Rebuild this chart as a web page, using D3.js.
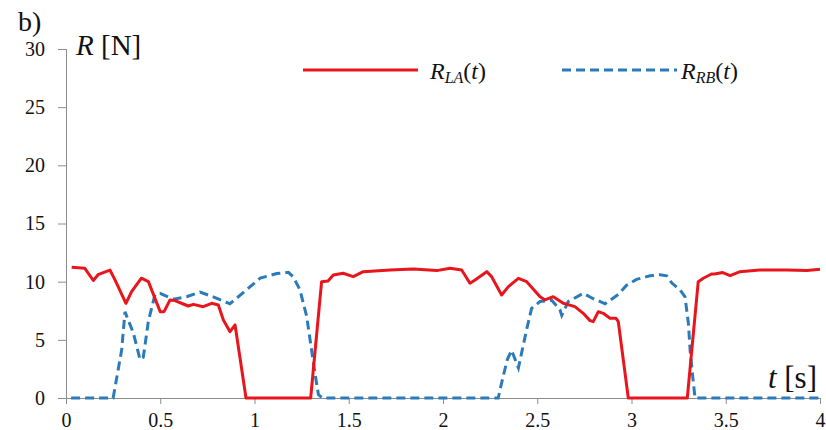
<!DOCTYPE html>
<html><head><meta charset="utf-8">
<script src="https://cdn.jsdelivr.net/npm/d3@7"></script>
<style>body{margin:0;background:#fff;} .tick text{font-family:"Liberation Serif",serif !important;}</style>
</head><body>
<svg id="c" width="826" height="430"></svg>
<script>
const xTicks = [0,0.5,1,1.5,2,2.5,3,3.5,4];
const xTickLabels = ["0","0.5","1","1.5","2","2.5","3","3.5","4"];
const yTicks = [0,5,10,15,20,25,30];

const tLA = [0.03,0.10,0.145,0.17,0.233,0.26,0.318,0.348,0.40,0.437,0.50,0.52,0.552,0.578,0.622,0.649,0.676,0.728,0.773,0.808,0.835,0.87,0.897,0.955,1.298,1.356,1.39,1.418,1.47,1.524,1.577,1.72,1.842,1.967,2.037,2.099,2.143,2.17,2.232,2.258,2.311,2.347,2.40,2.444,2.515,2.541,2.585,2.638,2.70,2.744,2.78,2.797,2.824,2.85,2.886,2.918,2.93,2.983,3.296,3.354,3.381,3.425,3.44,3.484,3.523,3.576,3.68,3.823,3.93,4.0];
const rLA = [11.24,11.15,10.1,10.6,11.0,10.15,8.14,9.14,10.3,10.0,7.42,7.42,8.43,8.37,8.08,7.91,8.05,7.85,8.14,8.0,6.7,5.7,6.28,0,0,10.0,10.06,10.58,10.72,10.43,10.86,11.0,11.09,10.95,11.15,11.0,9.86,10.15,10.86,10.43,8.86,9.57,10.29,10.0,8.71,8.43,8.71,8.14,7.85,7.28,6.65,6.56,7.42,7.28,6.85,6.85,6.56,0,0,10.0,10.29,10.66,10.66,10.78,10.52,10.86,11.0,11.0,10.95,11.07];

const tRB = [0.027,0.25,0.295,0.313,0.357,0.393,0.41,0.437,0.472,0.499,0.57,0.64,0.711,0.781,0.87,0.958,1.03,1.118,1.18,1.206,1.241,1.277,1.303,1.321,1.339,1.36,2.293,2.311,2.341,2.364,2.40,2.444,2.47,2.515,2.577,2.62,2.63,2.665,2.745,2.789,2.86,2.93,2.974,3.027,3.098,3.151,3.187,3.213,3.257,3.284,3.302,3.311,3.325,3.337,4.0];
const rRB = [0,0,4.1,7.4,5.6,3.3,3.5,6.6,8.9,9.0,8.5,8.7,9.1,8.7,8.1,9.3,10.3,10.7,10.8,10.4,9.3,7.0,4.1,2.1,0.3,0,0,1.3,3.3,4.1,2.6,5.9,7.7,8.3,8.4,7.6,7.1,8.3,9.0,8.6,8.1,8.9,9.7,10.2,10.5,10.6,10.5,9.9,9.3,8.7,6.4,4.1,1.8,0,0];

const FONT = "Liberation Serif";
const svg = d3.select("#c");
const x = d3.scaleLinear().domain([0,4]).range([66,820]);
const y = d3.scaleLinear().domain([0,30]).range([398,49]);
const axisColor = "#8c8c8c";

// y axis
const ya = svg.append("g").attr("transform","translate(66,0)")
  .call(d3.axisLeft(y).tickValues(yTicks).tickSize(8).tickPadding(13).tickFormat(d3.format("d")))
  .attr("font-family",FONT).attr("font-size",20);
ya.select(".domain").attr("stroke",axisColor);
ya.selectAll(".tick line").attr("stroke",axisColor);
ya.selectAll(".tick text").style("font-family",FONT).style("font-size","20px").attr("fill","#111");

// x axis
const xa = svg.append("g").attr("transform","translate(0,398)")
  .call(d3.axisBottom(x).tickValues(xTicks).tickSize(6).tickPadding(9).tickFormat((d,i)=>xTickLabels[i]))
  .attr("font-family",FONT).attr("font-size",20);
xa.select(".domain").attr("stroke",axisColor);
xa.selectAll(".tick line").attr("stroke",axisColor);
xa.selectAll(".tick text").style("font-family",FONT).style("font-size","20px").attr("fill","#111");

const line = d3.line().x(d=>x(d[0])).y(d=>y(d[1]));
const redC = "#e8161c", blueC = "#2b7bba";

svg.append("path").datum(tRB.map((t,i)=>[t,rRB[i]]))
  .attr("d",line).attr("fill","none").attr("stroke",blueC).attr("stroke-width",3)
  .attr("stroke-dasharray","9,5");
svg.append("path").datum(tLA.map((t,i)=>[t,rLA[i]]))
  .attr("d",line).attr("fill","none").attr("stroke",redC).attr("stroke-width",3)
  .attr("stroke-linejoin","round");

// labels
svg.append("text").attr("x",18).attr("y",31).style("font-family",FONT).style("font-size","28px").attr("fill","#111").text("b)");
const yl = svg.append("text").attr("x",76).attr("y",55).style("font-family",FONT).style("font-size","29px").attr("fill","#111");
yl.append("tspan").style("font-style","italic").text("R");
yl.append("tspan").text(" [N]");
const xl = svg.append("text").attr("x",817).attr("y",388).attr("text-anchor","end").style("font-family",FONT).style("font-size","31px").attr("fill","#111");
xl.append("tspan").style("font-style","italic").text("t");
xl.append("tspan").text(" [s]");

// legend
function legendText(xp, sub){
  const t = svg.append("text").attr("x",xp).attr("y",79).style("font-family",FONT).style("font-size","24px").attr("fill","#111");
  t.append("tspan").style("font-style","italic").text("R");
  t.append("tspan").style("font-style","italic").style("font-size","16px").attr("dy",4).text(sub);
  t.append("tspan").attr("dy",-4).text("(");
  t.append("tspan").style("font-style","italic").text("t");
  t.append("tspan").text(")");
}
svg.append("line").attr("x1",303).attr("x2",418).attr("y1",70).attr("y2",70).attr("stroke",redC).attr("stroke-width",3);
legendText(430,"LA");
svg.append("line").attr("x1",562).attr("x2",677).attr("y1",70).attr("y2",70).attr("stroke",blueC).attr("stroke-width",3).attr("stroke-dasharray","9,5");
legendText(681,"RB");
</script>
</body></html>
